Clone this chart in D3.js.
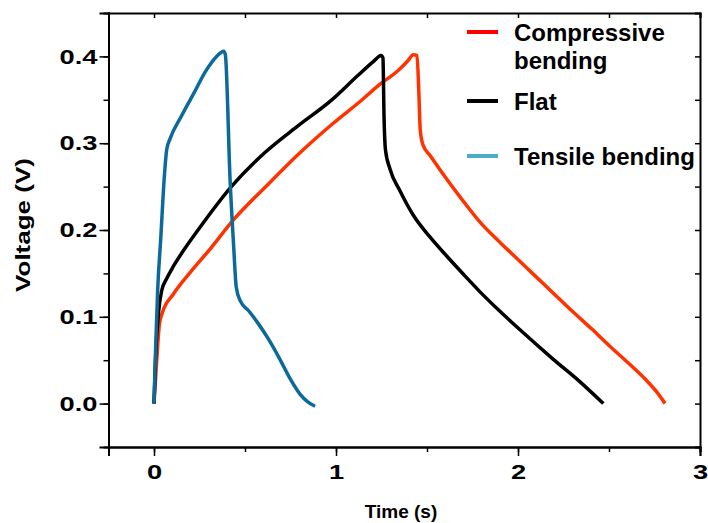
<!DOCTYPE html>
<html><head><meta charset="utf-8">
<script src="https://cdn.jsdelivr.net/npm/d3@7/dist/d3.min.js"></script>
<style>
html,body{margin:0;padding:0;background:#fff;}
text{font-family:"Liberation Sans",Arial,sans-serif;font-weight:bold;fill:#000;}
</style></head>
<body><svg id="c" width="708" height="523"></svg>
<script>
const compressive = [[0,0],[0.012,0.04],[0.03,0.092],[0.045,0.104],[0.106,0.126],[0.198,0.151],[0.308,0.178],[0.434,0.211],[0.619,0.251],[0.802,0.289],[0.985,0.323],[1.132,0.348],[1.242,0.368],[1.343,0.384],[1.395,0.395],[1.425,0.402],[1.445,0.401],[1.455,0.36],[1.463,0.315],[1.478,0.298],[1.52,0.285],[1.6,0.261],[1.7,0.233],[1.8,0.207],[1.9,0.186],[2.0,0.166],[2.1,0.146],[2.2,0.126],[2.3,0.106],[2.4,0.087],[2.5,0.067],[2.6,0.048],[2.7,0.028],[2.76,0.014],[2.808,0.0]];
const flat = [[0,0],[0.01,0.06],[0.025,0.105],[0.042,0.13],[0.07,0.144],[0.106,0.158],[0.161,0.176],[0.242,0.2],[0.425,0.25],[0.608,0.289],[0.791,0.32],[0.977,0.35],[1.12,0.378],[1.205,0.394],[1.248,0.401],[1.258,0.398],[1.264,0.33],[1.272,0.292],[1.297,0.27],[1.352,0.245],[1.425,0.217],[1.516,0.192],[1.608,0.17],[1.70,0.149],[1.79,0.129],[1.892,0.108],[2.011,0.085],[2.194,0.051],[2.341,0.025],[2.469,0.0]];
const tensile = [[0,0],[0.01,0.07],[0.02,0.13],[0.037,0.19],[0.057,0.262],[0.07,0.293],[0.088,0.305],[0.15,0.331],[0.22,0.358],[0.29,0.385],[0.344,0.40],[0.383,0.406],[0.392,0.402],[0.418,0.258],[0.438,0.18],[0.452,0.134],[0.475,0.118],[0.52,0.107],[0.57,0.093],[0.63,0.074],[0.692,0.051],[0.747,0.029],[0.802,0.011],[0.845,0.002],[0.885,-0.003]];
const xTicks = [0,1,2,3];
const yTicks = [0,0.1,0.2,0.3,0.4];
const legendLabels = [["Compressive","bending"],["Flat"],["Tensile bending"]];

const svg = d3.select("#c");
const x = d3.scaleLinear().domain([-0.25,3]).range([108.5,700]);
const y = d3.scaleLinear().domain([-0.05,0.45]).range([447,13]);

const xMinor = d3.range(0,3.01,0.5);
const yMinor = d3.range(0,0.449,0.05);

// frame axes
const gx = svg.append("g").attr("transform","translate(0,447)")
  .call(d3.axisBottom(x).tickValues(xMinor).tickSize(5).tickFormat(""));
const gxl = gx.append("g").call(d3.axisBottom(x).tickValues(xTicks).tickSize(9).tickFormat(d3.format("d")).tickPadding(8));
const gy = svg.append("g").attr("transform","translate(108.5,0)")
  .call(d3.axisLeft(y).tickValues(yMinor).tickSize(5).tickFormat(""));
const gyl = gy.append("g").call(d3.axisLeft(y).tickValues(yTicks).tickSize(9).tickFormat(d3.format(".1f")).tickPadding(2));
svg.append("g").attr("transform","translate(0,13)")
  .call(d3.axisBottom(x).tickValues(xMinor).tickSize(5).tickFormat(""));
svg.append("g").attr("transform","translate(700,0)")
  .call(d3.axisLeft(y).tickValues(yMinor).tickSize(5).tickFormat(""));
svg.selectAll(".domain").attr("stroke","#000").attr("stroke-width",2);
svg.selectAll(".tick line").attr("stroke","#000").attr("stroke-width",1.5);
svg.selectAll(".tick text").attr("font-size",21)
  .attr("font-family","Liberation Sans, Arial, sans-serif").attr("font-weight","bold");
gyl.selectAll(".tick text").attr("x",-11/1.3).attr("transform","scale(1.3,1)");
gxl.selectAll(".tick text").attr("transform","scale(1.3,1)");

// lines
const line = d3.line().x(d=>x(d[0])).y(d=>y(d[1])).curve(d3.curveMonotoneX);
const series = [
  {data:compressive,color:"#ff3300"},
  {data:flat,color:"#000000"},
  {data:tensile,color:"#0b6a9a"}
];
series.forEach(s=>{
  svg.append("path").datum(s.data).attr("d",line).attr("fill","none")
    .attr("stroke",s.color).attr("stroke-width",3.5).attr("stroke-linejoin","round");
});

// legend
const legColors = ["#ff0000","#000000","#4bacc6"];
const legY = [32,101,156];
legendLabels.forEach((lab,i)=>{
  svg.append("line").attr("x1",467).attr("x2",498).attr("y1",legY[i]).attr("y2",legY[i])
    .attr("stroke",legColors[i]).attr("stroke-width",4);
  const t = svg.append("text").attr("x",514).attr("y",legY[i]+9).attr("font-size",24);
  lab.forEach((l,j)=>t.append("tspan").attr("x",514).attr("dy",j?28:0).text(l));
});

// axis titles
svg.append("text").attr("x",401).attr("y",518).attr("text-anchor","middle").attr("font-size",19).text("Time (s)");
svg.append("text").attr("transform","translate(30,225) rotate(-90) scale(1.3,1)").attr("text-anchor","middle").attr("font-size",20).text("Voltage (V)");
</script></body></html>
